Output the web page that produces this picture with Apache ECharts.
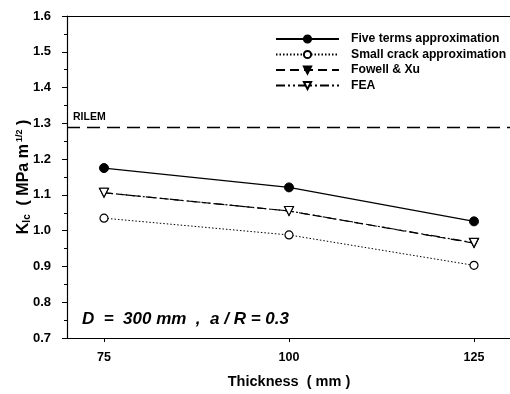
<!DOCTYPE html>
<html>
<head>
<meta charset="utf-8">
<script src="https://cdn.jsdelivr.net/npm/echarts@6/dist/echarts.min.js"></script>
<style>
  html, body { margin: 0; padding: 0; background: #fff; }
  #chart { width: 510px; height: 394px; }
</style>
</head>
<body>
<div id="chart"></div>
<script>
// Specimen thickness (mm)
const thickness = [75, 100, 125];
// Fracture toughness K_Ic (MPa m^1/2) for each method
const fiveTerms   = [1.175, 1.121, 1.026];
const smallCrack  = [1.035, 0.988, 0.903];
const fowellXu    = [1.106, 1.055, 0.965];
const fea         = [1.106, 1.055, 0.966];
// RILEM recommended value
const rilemValue = 1.29;
// Tick labels
const xTicks = [75, 100, 125];

const font = 'Liberation Sans, Arial, sans-serif';
const pairs = arr => thickness.map((t, i) => [t, arr[i]]);

const chart = echarts.init(document.getElementById('chart'), null, { renderer: 'canvas' });

chart.setOption({
  backgroundColor: '#fff',
  animation: false,
  textStyle: { fontFamily: font, color: '#000' },
  grid: { left: 67, right: -1, top: 16, bottom: 56, containLabel: false, outerBoundsMode: 'none' },
  legend: {
    orient: 'vertical',
    left: 270,
    top: 27,
    itemWidth: 63,
    itemHeight: 9,
    itemGap: 1.5,
    textStyle: { fontFamily: font, fontWeight: 'bold', fontSize: 12.2, lineHeight: 14, color: '#000', padding: [0, 0, 0, 7] },
    data: ['Five terms approximation', 'Small crack approximation', 'Fowell & Xu', 'FEA']
  },
  xAxis: [{
    type: 'value',
    min: 70, max: 130,
    position: 'bottom',
    name: 'Thickness  ( mm )',
    nameLocation: 'middle',
    nameGap: 36,
    nameMoveOverlap: false,
    nameTextStyle: { fontFamily: font, fontWeight: 'bold', fontSize: 14.5, color: '#000' },
    axisLine: { lineStyle: { color: '#000', width: 1.2 } },
    axisTick: { customValues: xTicks, length: 4, lineStyle: { color: '#000' } },
    axisLabel: { customValues: xTicks, margin: 13, fontWeight: 'bold', fontSize: 12.5, color: '#000', fontFamily: font },
    splitLine: { show: false }
  }, {
    type: 'value',
    min: 70, max: 130,
    position: 'top',
    axisLine: { show: true, lineStyle: { color: '#000', width: 1.2 } },
    axisTick: { show: false },
    axisLabel: { show: false },
    splitLine: { show: false }
  }],
  yAxis: {
    type: 'value',
    min: 0.7, max: 1.6, interval: 0.1,
    name: 'K{sub|Ic}  ( MPa m{sup|1/2} )',
    nameLocation: 'middle',
    nameGap: 35,
    nameMoveOverlap: false,
    nameRotate: 90,
    nameTextStyle: {
      fontFamily: font, fontWeight: 'bold', fontSize: 16, color: '#000',
      rich: {
        sub: { fontFamily: font, fontWeight: 'bold', fontSize: 10, color: '#000', verticalAlign: 'bottom', padding: [7, 0, 0, 0] },
        sup: { fontFamily: font, fontWeight: 'bold', fontSize: 9, color: '#000', verticalAlign: 'top', padding: [0, 0, 7, 2] }
      }
    },
    axisLine: { show: true, lineStyle: { color: '#000', width: 1.2 } },
    axisTick: { show: true, length: 5, lineStyle: { color: '#000' } },
    minorTick: { show: true, splitNumber: 2, length: 3, lineStyle: { color: '#000' } },
    axisLabel: {
      margin: 16, fontWeight: 'bold', fontSize: 13, color: '#000', fontFamily: font,
      formatter: v => v.toFixed(1)
    },
    splitLine: { show: false }
  },
  graphic: [{
    type: 'text',
    left: 82, top: 311,
    style: {
      text: 'D  =  300 mm  ,  a / R = 0.3',
      fontFamily: font, fontWeight: 'bold', fontStyle: 'italic', fontSize: 17, fill: '#000'
    }
  }],
  series: [{
    name: 'Five terms approximation',
    type: 'line',
    data: pairs(fiveTerms),
    symbol: 'circle', symbolSize: 9,
    itemStyle: { color: '#000', borderColor: '#000', borderWidth: 1 },
    lineStyle: { color: '#000', width: 1.2, type: 'solid' },
    markLine: {
      silent: true,
      symbol: 'none',
      data: [{ yAxis: rilemValue }],
      lineStyle: { color: '#000', width: 1.3, type: [13, 7] },
      label: {
        show: true, position: 'insideStartTop', formatter: 'RILEM',
        fontFamily: font, fontWeight: 'bold', fontSize: 10.5, color: '#000', distance: [6, 4]
      }
    },
    z: 5
  }, {
    name: 'Small crack approximation',
    type: 'line',
    data: pairs(smallCrack),
    symbol: 'circle', symbolSize: 8,
    itemStyle: { color: '#fff', borderColor: '#000', borderWidth: 1.2 },
    lineStyle: { color: '#000', width: 1, type: [1.5, 2] },
    z: 4
  }, {
    name: 'Fowell & Xu',
    type: 'line',
    data: pairs(fowellXu),
    symbol: 'triangle', symbolSize: 9, symbolRotate: 180,
    itemStyle: { color: '#000', borderColor: '#000', borderWidth: 1 },
    lineStyle: { color: '#000', width: 1.2, type: [9, 5] },
    z: 3
  }, {
    name: 'FEA',
    type: 'line',
    data: pairs(fea),
    symbol: 'triangle', symbolSize: 9, symbolRotate: 180,
    itemStyle: { color: '#fff', borderColor: '#000', borderWidth: 1.2 },
    lineStyle: { color: '#000', width: 1.2, type: [9, 3, 2, 3, 2, 3] },
    z: 6
  }]
});
</script>
</body>
</html>
